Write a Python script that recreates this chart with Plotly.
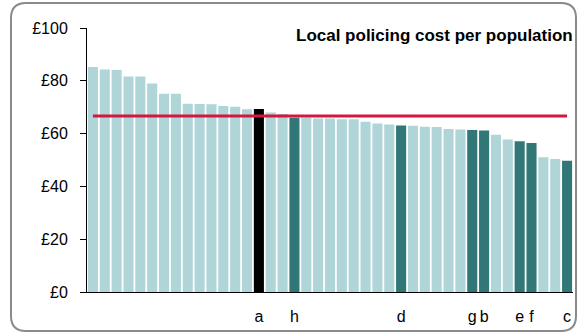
import plotly.graph_objects as go

# cost per head of population, sorted high to low (41 forces)
costs = [
    85.2, 84.3, 84.1, 81.6, 81.6, 79.0, 75.1, 75.1, 71.3, 71.2,
    71.1, 70.5, 70.2, 69.2, 69.3, 68.0, 67.4, 66.0, 66.0, 65.7,
    65.7, 65.4, 65.4, 64.5, 63.8, 63.4, 63.1, 63.0, 62.6, 62.5,
    61.7, 61.6, 61.4, 61.2, 59.6, 57.8, 57.1, 56.4, 51.0, 50.4,
    49.7,
]
# bar kind: 0 = other force, 1 = comparator, 2 = this force
kinds = [
    0, 0, 0, 0, 0, 0, 0, 0, 0, 0,
    0, 0, 0, 0, 2, 0, 0, 1, 0, 0,
    0, 0, 0, 0, 0, 0, 1, 0, 0, 0,
    0, 0, 1, 1, 0, 0, 1, 1, 0, 0,
    1,
]
label_positions = [15, 18, 27, 33, 34, 37, 38, 41]
label_text = ["a", "h", "d", "g", "b", "e", "f", "c"]
average_cost = 66.7

palette = {0: "#afd5d8", 1: "#317778", 2: "#000000"}
positions = list(range(1, len(costs) + 1))

fig = go.Figure()

fig.add_trace(go.Bar(
    x=positions,
    y=costs,
    marker_color=[palette[k] for k in kinds],
    marker_line_width=0,
    hoverinfo="y",
))

fig.add_trace(go.Scatter(
    x=[positions[0], positions[-1]],
    y=[average_cost, average_cost],
    mode="lines",
    line=dict(color="#d3173e", width=3),
    hoverinfo="skip",
))

# plot area in pixels
W, H = 578, 334
L, R, T, B = 87, 5, 28, 42
pw, ph = W - L - R, H - T - B


def px_x(v):
    return (v - L) / pw


def px_y(v):
    return (H - B - v) / ph


# rounded frame round the whole chart
x0, x1, y0, y1, rad = 11, 576, 3, 331, 15
frame = (
    f"M {px_x(x0 + rad)},{px_y(y0)} L {px_x(x1 - rad)},{px_y(y0)} "
    f"Q {px_x(x1)},{px_y(y0)} {px_x(x1)},{px_y(y0 + rad)} "
    f"L {px_x(x1)},{px_y(y1 - rad)} "
    f"Q {px_x(x1)},{px_y(y1)} {px_x(x1 - rad)},{px_y(y1)} "
    f"L {px_x(x0 + rad)},{px_y(y1)} "
    f"Q {px_x(x0)},{px_y(y1)} {px_x(x0)},{px_y(y1 - rad)} "
    f"L {px_x(x0)},{px_y(y0 + rad)} "
    f"Q {px_x(x0)},{px_y(y0)} {px_x(x0 + rad)},{px_y(y0)} Z"
)
fig.add_shape(
    type="path", path=frame, xref="paper", yref="paper",
    line=dict(color="#8a8a8a", width=2), layer="above",
)

fig.add_annotation(
    text="<b>Local policing cost per population</b>",
    xref="paper", yref="paper",
    x=px_x(575), y=px_y(36),
    xanchor="right", yanchor="middle",
    showarrow=False,
    font=dict(size=17, color="#000000"),
)

fig.update_layout(
    width=W,
    height=H,
    margin=dict(l=L, r=R, t=T, b=B, pad=0),
    paper_bgcolor="white",
    plot_bgcolor="white",
    showlegend=False,
    bargap=0.15,
    font=dict(family="Liberation Sans, Arial, sans-serif", size=16, color="#000000"),
    xaxis=dict(
        range=[0.5, len(costs) + 0.5],
        tickmode="array",
        tickvals=label_positions,
        ticktext=label_text,
        ticks="outside",
        ticklen=10,
        tickcolor="rgba(0,0,0,0)",
        showline=True,
        linecolor="#000000",
        linewidth=1,
        showgrid=False,
        zeroline=False,
    ),
    yaxis=dict(
        range=[0, 100],
        tickvals=[0, 20, 40, 60, 80, 100],
        ticktext=["£0", "£20", "£40", "£60", "£80", "£100"],
        ticks="outside",
        ticklen=6,
        tickcolor="#000000",
        ticklabelstandoff=9,
        showline=True,
        linecolor="#000000",
        linewidth=1,
        showgrid=False,
        zeroline=False,
    ),
)

# page has a default 8px body margin; drop it so the chart sits at 0,0
fig.write_html(
    "out.html",
    config={"displayModeBar": False},
    post_script="document.body.style.margin = '0';",
)
